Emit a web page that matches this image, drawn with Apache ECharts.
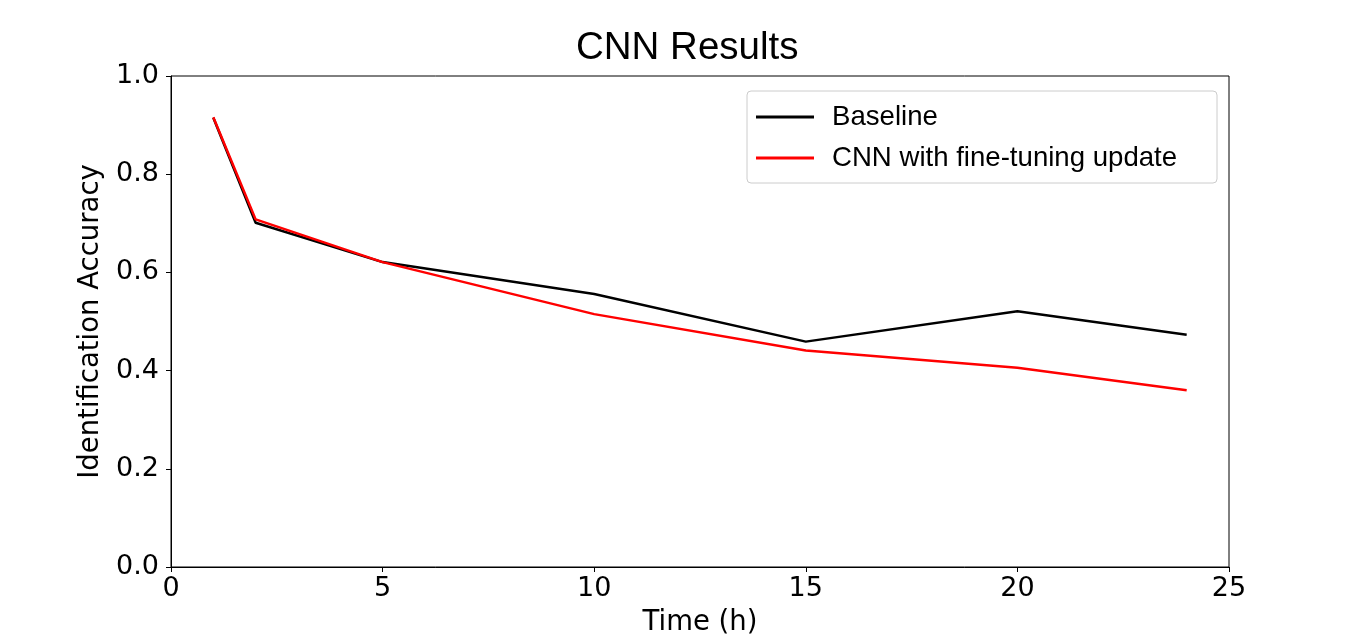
<!DOCTYPE html>
<html>
<head>
<meta charset="utf-8">
<title>CNN Results</title>
<script src="https://cdn.jsdelivr.net/npm/echarts@6/dist/echarts.min.js"></script>
<style>
    html, body { margin: 0; padding: 0; background: #fff; }
    #chart { width: 1366px; height: 637px; }
</style>
</head>
<body>
<div id="chart"></div>
<script>
// data
const timeHours = [1, 2, 5, 10, 15, 20, 24];
const baselineAcc = [0.915, 0.701, 0.621, 0.556, 0.459, 0.521, 0.473];
const cnnFineTuneAcc = [0.916, 0.708, 0.621, 0.515, 0.441, 0.406, 0.360];
const seriesNames = ['Baseline', 'CNN with fine-tuning update'];

document.addEventListener('DOMContentLoaded', function () {
    const chartEl = document.getElementById('chart');
    const chart = echarts.init(chartEl);

    const tickFont = 'DejaVu Sans';
    const textFont = 'Liberation Sans';

    const option = {
        animation: false,
        backgroundColor: '#fff',
        title: {
            text: 'CNN Results',
            left: 576,
            top: 29,
            padding: 0,
            textStyle: { fontFamily: textFont, fontSize: 38.5, fontWeight: 'normal', color: '#000' }
        },
        legend: {
            orient: 'vertical',
            left: 747,
            top: 91,
            padding: [11, 0, 10, 9],
            itemGap: 11,
            itemWidth: 58,
            itemHeight: 3,
            icon: 'rect',
            borderColor: '#cccccc',
            borderWidth: 1,
            borderRadius: 4,
            backgroundColor: '#fff',
            textStyle: {
                fontFamily: textFont,
                fontSize: 27.6,
                color: '#000',
                lineHeight: 30,
                width: 345,
                padding: [0, 40, 0, 13]
            },
            data: seriesNames
        },
        grid: {
            left: 171,
            right: 137,
            top: 76,
            bottom: 70,
            show: true,
            borderColor: '#000',
            borderWidth: 1,
            containLabel: false,
            outerBoundsMode: 'none'
        },
        xAxis: {
            type: 'value',
            min: 0,
            max: 25,
            interval: 5,
            name: 'Time (h)',
            nameLocation: 'middle',
            nameGap: 42,
            nameTextStyle: { fontFamily: tickFont, fontSize: 27.5, color: '#000' },
            axisLine: { show: true, lineStyle: { color: '#000', width: 1 } },
            axisTick: { show: true, length: 5, lineStyle: { color: '#000', width: 1 } },
            axisLabel: { fontFamily: tickFont, fontSize: 27, color: '#000', margin: 8 },
            splitLine: { show: false }
        },
        yAxis: {
            type: 'value',
            min: 0,
            max: 1,
            interval: 0.2,
            name: 'Identification Accuracy',
            nameLocation: 'middle',
            nameGap: 58,
            nameTextStyle: { fontFamily: tickFont, fontSize: 27.5, color: '#000' },
            axisLine: { show: true, lineStyle: { color: '#000', width: 1 } },
            axisTick: { show: true, length: 5, lineStyle: { color: '#000', width: 1 } },
            axisLabel: {
                fontFamily: tickFont,
                fontSize: 27,
                color: '#000',
                margin: 12,
                formatter: function (v) { return v.toFixed(1); }
            },
            splitLine: { show: false }
        },
        series: [
            {
                name: seriesNames[0],
                type: 'line',
                data: timeHours.map((t, i) => [t, baselineAcc[i]]),
                showSymbol: false,
                symbol: 'none',
                itemStyle: { color: '#000000' },
                lineStyle: { color: '#000000', width: 2.5 }
            },
            {
                name: seriesNames[1],
                type: 'line',
                data: timeHours.map((t, i) => [t, cnnFineTuneAcc[i]]),
                showSymbol: false,
                symbol: 'none',
                itemStyle: { color: '#ff0000' },
                lineStyle: { color: '#ff0000', width: 2.5 }
            }
        ]
    };

    chart.setOption(option);

    window.addEventListener('resize', function () {
        chart.resize();
    });
});
</script>
</body>
</html>
